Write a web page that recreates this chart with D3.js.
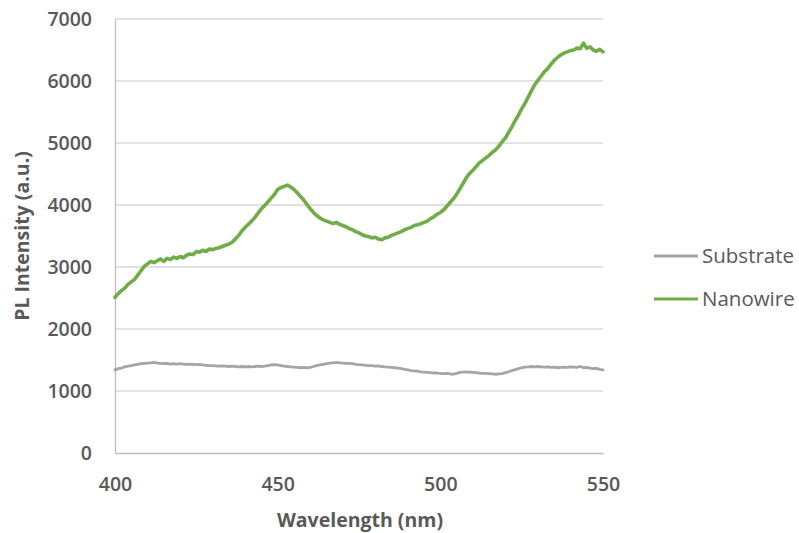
<!DOCTYPE html>
<html>
<head>
<meta charset="utf-8">
<script src="https://cdn.jsdelivr.net/npm/d3@7"></script>
<style>
  html, body { margin: 0; padding: 0; background: #fff; }
  svg { display: block; font-family: "Open Sans", "Liberation Sans", sans-serif; }
</style>
</head>
<body>
<svg id="chart" width="799" height="533"></svg>
<script>
// Wavelength grid (nm), one sample per nm
const waveStart = 400;
const waveEnd = 550;
const wavelengths = d3.range(waveStart, waveEnd + 1);

// PL intensity (a.u.) for the bare substrate, 400–550 nm
const substrate = [
  1340,1360,1370,1390,1400,1410,1420,1430,1440,1445,
  1450,1455,1460,1450,1445,1440,1445,1435,1440,1435,
  1440,1435,1430,1435,1430,1425,1430,1420,1415,1410,
  1410,1405,1400,1405,1400,1395,1400,1395,1390,1395,
  1390,1395,1390,1395,1400,1395,1400,1410,1420,1425,
  1420,1410,1400,1395,1390,1385,1380,1375,1380,1375,
  1380,1395,1410,1420,1430,1440,1450,1455,1460,1455,
  1450,1445,1445,1440,1430,1425,1420,1415,1410,1410,
  1400,1405,1395,1390,1385,1380,1375,1370,1360,1350,
  1340,1330,1325,1320,1310,1305,1300,1295,1290,1290,
  1285,1280,1285,1275,1270,1285,1300,1305,1310,1305,
  1300,1295,1290,1285,1285,1280,1275,1270,1275,1280,
  1295,1310,1330,1345,1360,1375,1385,1390,1395,1390,
  1395,1390,1385,1390,1380,1385,1375,1380,1385,1380,
  1390,1385,1380,1395,1375,1380,1370,1360,1365,1350,
  1340
];

// PL intensity (a.u.) for the nanowire sample, 400–550 nm
const nanowire = [
  2510,2570,2620,2660,2720,2760,2800,2870,2940,3010,
  3050,3090,3070,3100,3130,3090,3140,3120,3160,3140,
  3170,3150,3190,3210,3200,3250,3240,3270,3250,3290,
  3280,3300,3310,3330,3350,3370,3400,3450,3510,3580,
  3640,3690,3740,3800,3870,3940,3990,4050,4110,4170,
  4250,4280,4300,4320,4290,4250,4200,4140,4080,4010,
  3940,3880,3830,3790,3760,3740,3720,3700,3720,3690,
  3670,3650,3620,3600,3570,3550,3520,3500,3490,3470,
  3480,3450,3440,3470,3480,3510,3530,3550,3570,3600,
  3620,3640,3670,3680,3700,3720,3740,3780,3810,3850,
  3880,3920,3980,4040,4100,4170,4260,4350,4440,4510,
  4560,4620,4680,4720,4760,4800,4850,4890,4950,5020,
  5080,5170,5260,5360,5450,5550,5640,5740,5840,5940,
  6010,6080,6150,6200,6270,6330,6380,6420,6450,6470,
  6490,6500,6530,6520,6610,6530,6550,6500,6480,6510,
  6470
];

const xTicks = [400, 450, 500, 550];
const yTicks = [0, 1000, 2000, 3000, 4000, 5000, 6000, 7000];

const seriesNames = ["Substrate", "Nanowire"];
const seriesColors = ["#a5a5a5", "#70ad47"];
const seriesValues = [substrate, nanowire];

const svg = d3.select("#chart");
const plot = { left: 115, right: 603, top: 19, bottom: 453 };

const x = d3.scaleLinear().domain([400, 550]).range([plot.left, plot.right]);
const y = d3.scaleLinear().domain([0, 7000]).range([plot.bottom, plot.top]);

// Horizontal gridlines
svg.append("g")
  .selectAll("line")
  .data(yTicks.filter(d => d > 0))
  .join("line")
  .attr("x1", plot.left).attr("x2", plot.right)
  .attr("y1", d => y(d)).attr("y2", d => y(d))
  .attr("stroke", "#d9d9d9").attr("stroke-width", 1.3);

// Y axis
const yAxis = svg.append("g")
  .attr("transform", `translate(${plot.left},0)`)
  .call(d3.axisLeft(y).tickValues(yTicks).tickSize(0).tickPadding(23).tickFormat(d3.format("d")));
yAxis.select(".domain").attr("stroke", "#bfbfbf").attr("stroke-width", 1.3);
yAxis.selectAll("text")
  .attr("fill", "#595959")
  .attr("font-size", 19.5)
  .attr("font-weight", 600)
  .attr("font-family", "'Open Sans', sans-serif");

// X axis
const xAxis = svg.append("g")
  .attr("transform", `translate(0,${plot.bottom})`)
  .call(d3.axisBottom(x).tickValues(xTicks).tickSize(0).tickPadding(24).tickFormat(d3.format("d")));
xAxis.select(".domain").attr("stroke", "#bfbfbf").attr("stroke-width", 1.3);
xAxis.selectAll("text")
  .attr("fill", "#595959")
  .attr("font-size", 19.5)
  .attr("font-weight", 600)
  .attr("font-family", "'Open Sans', sans-serif");

// Spectra
const line = d3.line()
  .x((d, i) => x(wavelengths[i]))
  .y(d => y(d));

svg.append("g")
  .selectAll("path")
  .data(seriesValues)
  .join("path")
  .attr("d", d => line(d))
  .attr("fill", "none")
  .attr("stroke", (d, i) => seriesColors[i])
  .attr("stroke-width", (d, i) => i === 1 ? 3.6 : 2.8)
  .attr("stroke-linejoin", "round")
  .attr("stroke-linecap", "round");

// Axis titles
svg.append("text")
  .attr("x", 360).attr("y", 527)
  .attr("text-anchor", "middle")
  .attr("fill", "#595959")
  .attr("font-size", 19.5)
  .attr("font-weight", 700)
  .text("Wavelength (nm)");

svg.append("text")
  .attr("transform", "translate(29,236) rotate(-90)")
  .attr("text-anchor", "middle")
  .attr("fill", "#595959")
  .attr("font-size", 19.5)
  .attr("font-weight", 700)
  .text("PL Intensity (a.u.)");

// Legend
const legend = svg.append("g")
  .selectAll("g")
  .data(seriesNames)
  .join("g")
  .attr("transform", (d, i) => `translate(654,${256 + i * 43})`);
legend.append("line")
  .attr("x1", 0).attr("x2", 44)
  .attr("stroke", (d, i) => seriesColors[i])
  .attr("stroke-width", 3);
legend.append("text")
  .attr("x", 48).attr("dy", "0.35em")
  .attr("fill", "#595959")
  .attr("font-size", 20.5)
  .text(d => d);
</script>
</body>
</html>
